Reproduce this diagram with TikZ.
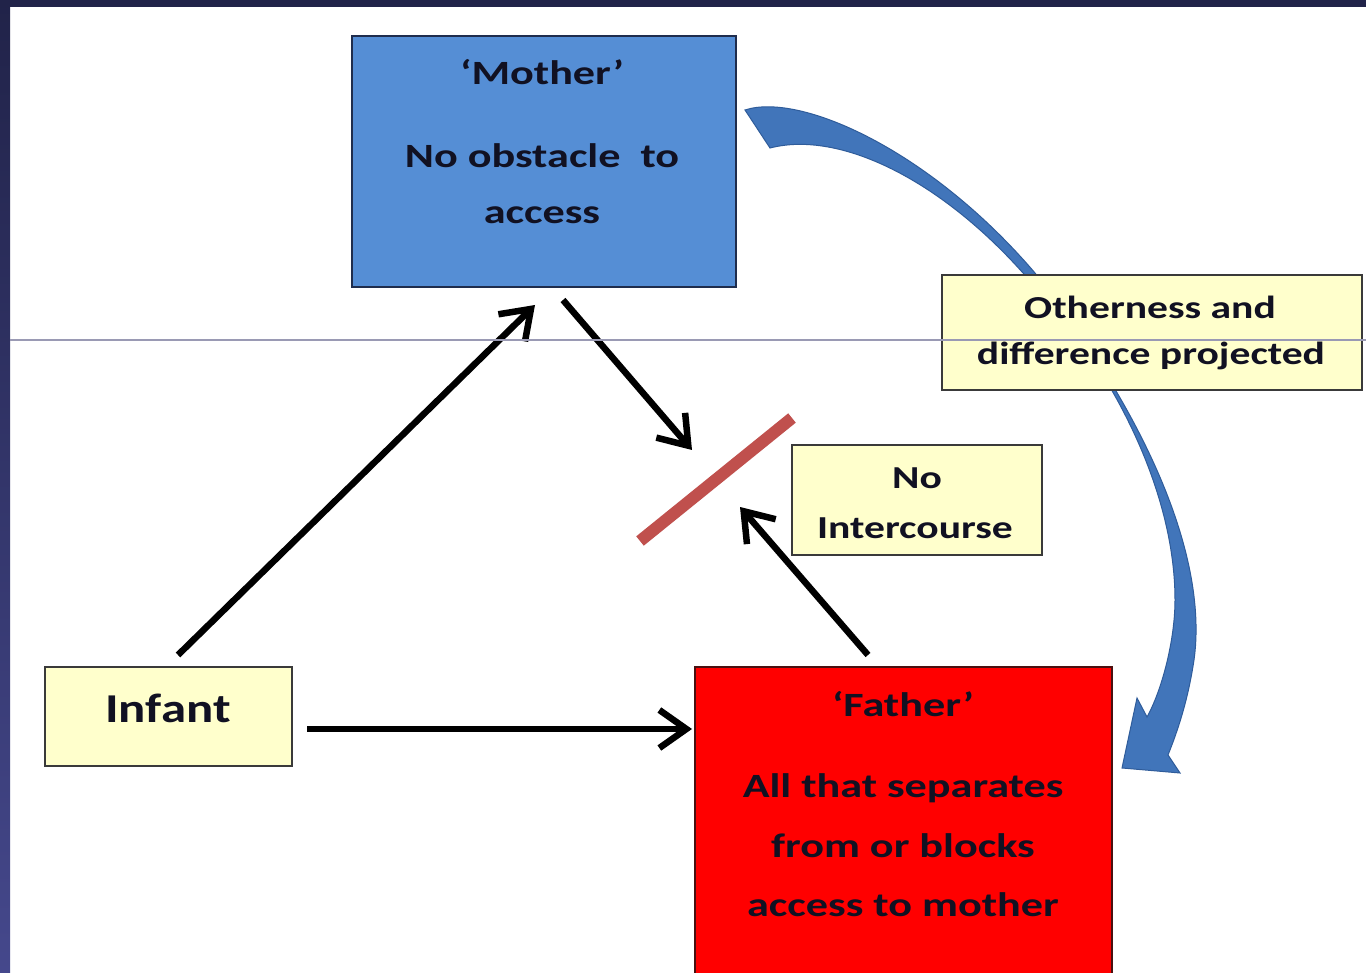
\documentclass[tikz,border=0pt]{standalone}
\usepackage{fontspec}
\setmainfont{Carlito}
\usetikzlibrary{arrows.meta}
\definecolor{frame}{HTML}{212349}
\definecolor{frameb}{HTML}{45488C}
\definecolor{mblue}{HTML}{558ED5}
\definecolor{mborder}{HTML}{1F2D4D}
\definecolor{pale}{HTML}{FFFFCC}
\definecolor{boxline}{HTML}{3A3A3A}
\definecolor{fborder}{HTML}{4A1010}
\definecolor{barred}{HTML}{C0504D}
\definecolor{carrow}{HTML}{4175BA}
\definecolor{carrowd}{HTML}{2F5C9A}
\definecolor{ink}{HTML}{111122}
\definecolor{rulecol}{HTML}{9A9AB4}
\begin{document}
\begin{tikzpicture}[x=1pt,y=-1pt,
  box/.style={draw, line width=2pt, inner sep=0pt, rectangle},
  txt/.style={text=ink, inner sep=0pt, font=\bfseries\fontsize{34}{34}\selectfont\addfontfeatures{FakeStretch=1.3}},
  txts/.style={text=ink, inner sep=0pt, font=\bfseries\fontsize{32}{32}\selectfont\addfontfeatures{FakeStretch=1.3}},
  txtb/.style={text=ink, inner sep=0pt, font=\bfseries\fontsize{41}{41}\selectfont\addfontfeatures{FakeStretch=1.24}},
  link/.style={line width=6.5pt, -{Straight Barb[length=27pt,width=38pt]}}]
\useasboundingbox (0,0) rectangle (1366,973);
\fill[white] (0,0) rectangle (1366,973);
\fill[frame] (0,0) rectangle (1366,7);
\shade[top color=frame, bottom color=frameb] (0,0) rectangle (10,973);

% curved blue arrow (behind boxes)
\filldraw[fill=carrow, draw=carrowd, line width=1pt]
  (745,110) .. controls (800,92) and (930,150) .. (1035,273)
  .. controls (1150,420) and (1208,560) .. (1194,660)
  .. controls (1188,700) and (1178,730) .. (1168,755)
  -- (1180,773) -- (1122,768) -- (1137,698) -- (1147,717)
  .. controls (1162,690) and (1175,640) .. (1175,600)
  .. controls (1175,480) and (1100,350) .. (1023,273)
  .. controls (940,180) and (840,130) .. (770,148) -- cycle;

% boxes
\node[box, fill=mblue, draw=mborder, minimum width=384pt, minimum height=251pt] (mother) at (544,161.5) {};
\node[box, fill=pale, draw=boxline, minimum width=420pt, minimum height=115pt] (other) at (1152,332.5) {};
\node[box, fill=pale, draw=boxline, minimum width=250pt, minimum height=110pt] (noint) at (917,500) {};
\node[box, fill=pale, draw=boxline, minimum width=247pt, minimum height=99pt] (infant) at (168.5,716.5) {};
\node[box, fill=red, draw=fborder, minimum width=417pt, minimum height=318pt] (father) at (903.5,826) {};

% texts
\node[txt] (mt1) at (542,72) {‘Mother’};
\node[txt] (mt2) at (542,156) {No obstacle\ \ to};
\node[txt] (mt3) at (542,215) {access};
\node[txts] (ot1) at (1150,307) {Otherness and};
\node[txts] (ot2) at (1151,356) {difference projected};
\node[txts] (nt1) at (917,478) {No};
\node[txts] (nt2) at (915,528) {Intercourse};
\node[txtb] (it1) at (168,708) {Infant};
\node[txt] (ft1) at (903,704) {‘Father’};
\node[txt] (ft2) at (903,788) {All that separates};
\node[txt] (ft3) at (903,846) {from or blocks};
\node[txt] (ft4) at (903,905) {access to mother};

% bar
\coordinate (bar1) at (640,541);
\coordinate (bar2) at (792,418);
\draw[barred, line width=12pt] (bar1) -- (bar2);

% arrows
\coordinate (i1) at (178,655);
\coordinate (m1) at (535,305);
\coordinate (m2) at (563,300);
\coordinate (b1) at (692,450);
\coordinate (f1) at (868,655);
\coordinate (b2) at (740,507);
\coordinate (i2) at (307,729);
\coordinate (f2) at (692,729);
\draw[link] (i1) -- (m1);
\draw[link] (m2) -- (b1);
\draw[link] (f1) -- (b2);
\draw[link] (i2) -- (f2);

% thin rule across
\draw[rulecol, line width=1.5pt] (10,340) -- (1366,340);
\end{tikzpicture}
\end{document}
